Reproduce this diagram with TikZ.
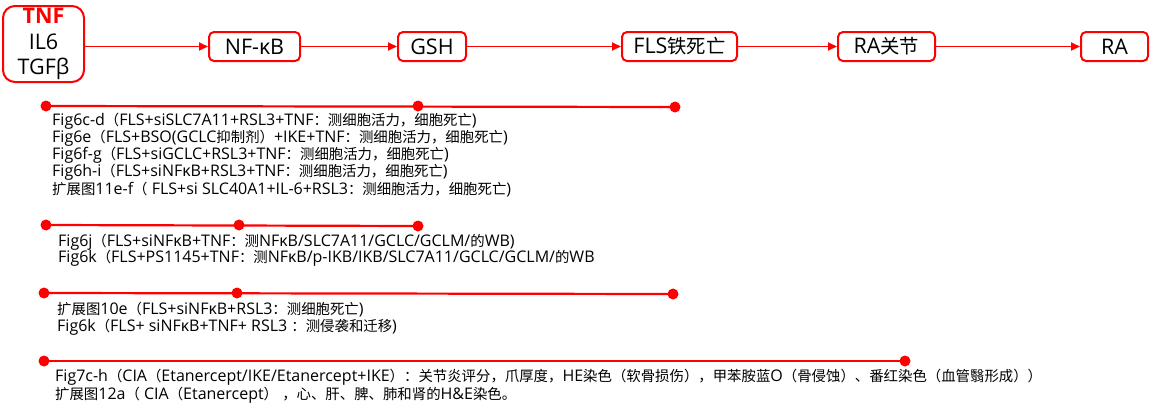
\documentclass[tikz,border=0pt]{standalone}
\usepackage{fontspec}
\setmainfont{Open Sans}
\newfontfamily\cjkf[Scale=0.9]{Noto Sans CJK SC}
\newfontfamily\latf{Open Sans}
\newXeTeXintercharclass\cjkclass
\count255="3000 \loop \XeTeXcharclass\count255=\cjkclass \ifnum\count255<"303F \advance\count255 1 \repeat
\count255="4E00 \loop \XeTeXcharclass\count255=\cjkclass \ifnum\count255<"9FFF \advance\count255 1 \repeat
\count255="FF00 \loop \XeTeXcharclass\count255=\cjkclass \ifnum\count255<"FFEF \advance\count255 1 \repeat
\XeTeXinterchartoks 0 \cjkclass = {\cjkf}
\XeTeXinterchartoks 4095 \cjkclass = {\cjkf}
\XeTeXinterchartoks \cjkclass 0 = {\latf}
\XeTeXinterchartoks \cjkclass 4095 = {\latf}
\XeTeXinterchartokenstate=1
\usetikzlibrary{arrows.meta}
\definecolor{myred}{RGB}{255,0,0}
\tikzset{
  x=1pt, y=-1pt,
  box/.style={draw=myred, line width=2pt, rounded corners=5pt, minimum height=29pt, inner sep=0pt, font=\fontsize{21.5}{22}\selectfont},
  flow/.style={draw=myred, line width=1.8pt, -{Triangle[length=9pt,width=8pt]}},
  tl/.style={draw=myred, line width=2.2pt},
  dot/.style={circle, fill=myred, inner sep=0pt, minimum size=11pt},
  txt/.style={anchor=west, inner sep=0pt, font=\fontsize{16}{17}\selectfont},
}
\begin{document}
\begin{tikzpicture}
\useasboundingbox (0,0) rectangle (1157,408);
% top flow
\node[box, minimum width=81pt, minimum height=76pt, rounded corners=12pt, align=center, font=\fontsize{21.5}{25.5}\selectfont] (tnf) at (43.5,44) {{\color{myred}\bfseries TNF}\\IL6\\TGFβ};
\node[box, minimum width=91pt] (nfkb) at (254.5,46.5) {NF-κB};
\node[box, minimum width=68pt] (gsh) at (432,46.5) {GSH};
\node[box, minimum width=115pt] (fls) at (679.5,46.5) {FLS铁死亡};
\node[box, minimum width=97pt] (raj) at (886.5,46.5) {RA关节};
\node[box, minimum width=67pt] (ra) at (1114.5,46.5) {RA};
\draw[flow] (tnf.east |- nfkb.west) -- (nfkb.west);
\draw[flow] (nfkb.east) -- (gsh.west);
\draw[flow] (gsh.east) -- (fls.west);
\draw[flow] (fls.east) -- (raj.west);
\draw[flow] (raj.east) -- (ra.west);
% timeline 1
\coordinate (a1) at (46,106); \coordinate (a2) at (418,106); \coordinate (a3) at (675,107);
\draw[tl] (a1) -- (a3);
\node[dot] (d11) at (a1) {}; \node[dot] (d12) at (a2) {}; \node[dot] (d13) at (a3) {};
\node[txt] (t11) at (52,121) {Fig6c-d（FLS+siSLC7A11+RSL3+TNF：测细胞活力，细胞死亡)};
\node[txt] (t12) at (52,138) {Fig6e（FLS+BSO(GCLC抑制剂）+IKE+TNF：测细胞活力，细胞死亡)};
\node[txt] (t13) at (52,155) {Fig6f-g（FLS+siGCLC+RSL3+TNF：测细胞活力，细胞死亡)};
\node[txt] (t14) at (52,172) {Fig6h-i（FLS+siNFκB+RSL3+TNF：测细胞活力，细胞死亡)};
\node[txt] (t15) at (52,190) {扩展图11e-f（ FLS+si SLC40A1+IL-6+RSL3：测细胞活力，细胞死亡)};
% timeline 2
\coordinate (b1) at (46,225); \coordinate (b2) at (239,225); \coordinate (b3) at (418,226);
\draw[tl] (b1) -- (b3);
\node[dot] (d21) at (b1) {}; \node[dot] (d22) at (b2) {}; \node[dot] (d23) at (b3) {};
\node[txt] (t21) at (58,242) {Fig6j（FLS+siNFκB+TNF：测NFκB/SLC7A11/GCLC/GCLM/的WB)};
\node[txt] (t22) at (58,258) {Fig6k（FLS+PS1145+TNF：测NFκB/p-IKB/IKB/SLC7A11/GCLC/GCLM/的WB};
% timeline 3
\coordinate (c1) at (44,293); \coordinate (c2) at (237,293); \coordinate (c3) at (673,294);
\draw[tl] (c1) -- (c3);
\node[dot] (d31) at (c1) {}; \node[dot] (d32) at (c2) {}; \node[dot] (d33) at (c3) {};
\node[txt] (t31) at (57,310) {扩展图10e（FLS+siNFκB+RSL3：测细胞死亡)};
\node[txt] (t32) at (57,327) {Fig6k（FLS+ siNFκB+TNF+ RSL3 ：测侵袭和迁移)};
% timeline 4
\coordinate (e1) at (44,361); \coordinate (e2) at (905,361);
\draw[tl] (e1) -- (e2);
\node[dot] (d41) at (e1) {}; \node[dot] (d42) at (e2) {};
\node[txt] (t41) at (55,377) {Fig7c-h（CIA（Etanercept/IKE/Etanercept+IKE）：关节炎评分，爪厚度，HE染色（软骨损伤），甲苯胺蓝O（骨侵蚀）、番红染色（血管翳形成））};
\node[txt] (t42) at (55,395) {扩展图12a（ CIA（Etanercept） ，心、肝、脾、肺和肾的H\&E染色。};
\end{tikzpicture}
\end{document}
